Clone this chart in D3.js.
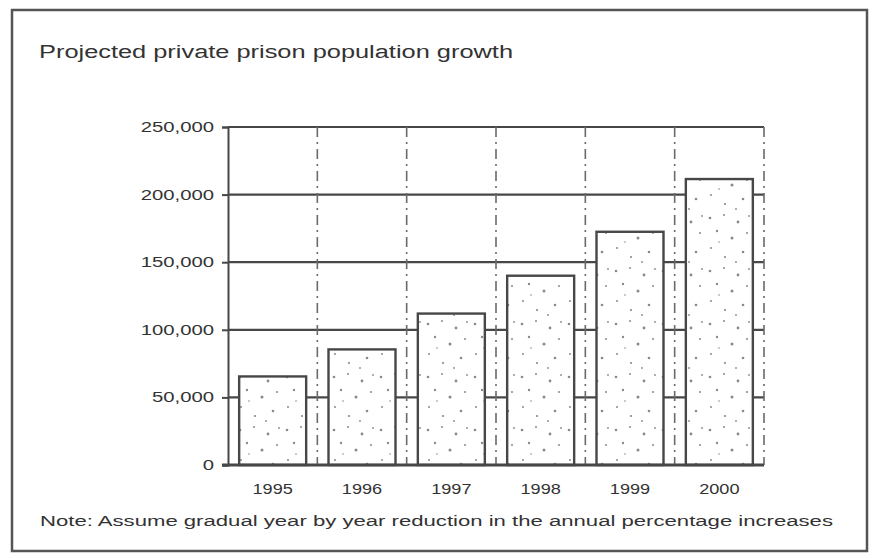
<!DOCTYPE html>
<html>
<head>
<meta charset="utf-8">
<script src="https://cdn.jsdelivr.net/npm/d3@7"></script>
<style>
  html, body { margin: 0; padding: 0; background: #fff; }
  svg { display: block; }
  text { font-family: "Liberation Sans", Arial, sans-serif; fill: #333; }
</style>
</head>
<body>
<svg id="chart" width="874" height="559"></svg>
<script>
// ---- data ----
const years = ["1995", "1996", "1997", "1998", "1999", "2000"];
const population = [65500, 85500, 112000, 140000, 172500, 211500];
const yTicks = [0, 50000, 100000, 150000, 200000, 250000];
const titleText = "Projected private prison population growth";
const noteText = "Note: Assume gradual year by year reduction in the annual percentage increases";

// ---- layout ----
const W = 874, H = 559;
const plot = { left: 228, right: 764, top: 127, bottom: 465 };
const ink = "#474747";

const svg = d3.select("#chart");
svg.append("rect").attr("width", W).attr("height", H).attr("fill", "#fff");

// stipple texture for bars
const defs = svg.append("defs");
const pat = defs.append("pattern").attr("id", "stipple")
  .attr("patternUnits", "userSpaceOnUse").attr("width", 47).attr("height", 53);
pat.append("rect").attr("width", 47).attr("height", 53).attr("fill", "#fff");
const dots = [[5,6,1.3],[19,3,1],[33,10,1.4],[42,21,1],[12,19,1.2],[27,26,1.5],[6,36,1],[38,40,1.3],[20,45,1.1],[31,50,0.9],[14,30,0.8],[44,4,0.9]];
pat.selectAll("circle").data(dots).join("circle")
  .attr("cx", d => d[0]).attr("cy", d => d[1]).attr("r", d => d[2]).attr("fill", "#8a8a8a");

// outer frame
svg.append("rect").attr("x", 12).attr("y", 10).attr("width", 855).attr("height", 541)
  .attr("fill", "none").attr("stroke", "#555").attr("stroke-width", 2.5);

// scales
const x = d3.scaleBand().domain(years).range([plot.left, plot.right])
  .paddingInner(0.25).paddingOuter(0.125);
const y = d3.scaleLinear().domain([0, 250000]).range([plot.bottom, plot.top]);

// horizontal gridlines
svg.append("g").selectAll("line").data(yTicks.filter(v => v > 0)).join("line")
  .attr("x1", plot.left).attr("x2", plot.right)
  .attr("y1", d => y(d)).attr("y2", d => y(d))
  .attr("stroke", ink).attr("stroke-width", 2.2);

// vertical dashed dividers between bands
const step = x.step();
const bounds = years.map(d => x(d) + x.bandwidth() + (step - x.bandwidth()) / 2);
svg.append("g").selectAll("line").data(bounds).join("line")
  .attr("x1", d => d).attr("x2", d => d)
  .attr("y1", plot.top).attr("y2", plot.bottom)
  .attr("stroke", "#6a6a6a").attr("stroke-width", 1.6)
  .attr("stroke-dasharray", "10,5,2,5");

// bars
svg.append("g").selectAll("rect").data(years).join("rect")
  .attr("x", d => x(d))
  .attr("y", (d, i) => y(population[i]))
  .attr("width", x.bandwidth())
  .attr("height", (d, i) => y(0) - y(population[i]))
  .attr("fill", "url(#stipple)")
  .attr("stroke", ink).attr("stroke-width", 2.4);

// y axis
const yAxis = svg.append("g").attr("transform", `translate(${plot.left},0)`)
  .call(d3.axisLeft(y).tickValues(yTicks).tickFormat(d3.format(",")).tickSize(6).tickPadding(8));
yAxis.select(".domain").attr("stroke", ink).attr("stroke-width", 2);
yAxis.selectAll(".tick line").attr("stroke", ink).attr("stroke-width", 2);
yAxis.selectAll(".tick text").attr("font-size", 14).attr("fill", "#333")
  .style("font-family", "'Liberation Sans', Arial, sans-serif");

// baseline
svg.append("line").attr("x1", plot.left - 6).attr("x2", plot.right)
  .attr("y1", y(0)).attr("y2", y(0)).attr("stroke", ink).attr("stroke-width", 3);

// x axis labels
const xAxis = svg.append("g").attr("transform", `translate(0,${plot.bottom})`)
  .call(d3.axisBottom(x).tickSize(0).tickPadding(19));
xAxis.select(".domain").remove();
xAxis.selectAll(".tick text").attr("font-size", 14.5).attr("fill", "#333")
  .style("font-family", "'Liberation Sans', Arial, sans-serif");

// title and note
svg.append("text").attr("class", "title").attr("x", 39).attr("y", 58)
  .attr("font-size", 18).text(titleText);
svg.append("text").attr("class", "note").attr("x", 40).attr("y", 526)
  .attr("font-size", 15.5).text(noteText);

// horizontal stretch to mimic the scanned lettering
function stretch(sel, factor) {
  sel.each(function () {
    const w = this.getComputedTextLength();
    d3.select(this).attr("textLength", w * factor).attr("lengthAdjust", "spacingAndGlyphs");
  });
}
svg.select("text.title").attr("textLength", 474).attr("lengthAdjust", "spacingAndGlyphs");
svg.select("text.note").attr("textLength", 793).attr("lengthAdjust", "spacingAndGlyphs");
stretch(yAxis.selectAll(".tick text"), 1.45);
stretch(xAxis.selectAll(".tick text"), 1.25);
</script>
</body>
</html>
